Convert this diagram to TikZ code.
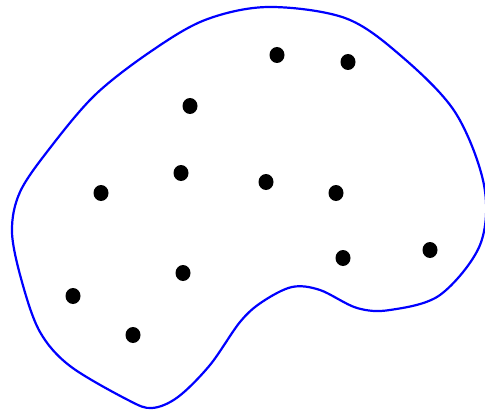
\documentclass[tikz,border=0pt]{standalone}
\usetikzlibrary{shapes.geometric}
\begin{document}
\begin{tikzpicture}[x=1pt,y=-1pt,
  dot/.style={fill=black,ellipse,inner sep=0pt,minimum width=15pt,minimum height=16pt},
  region/.style={draw=blue,line width=2.2pt}]
\useasboundingbox (0,0) rectangle (485,412);
\draw[region] plot[smooth cycle,tension=0.55] coordinates {
 (268,7) (345,18) (400,55) (455,112) (484,185) (480,245) (440,295) (390,310) (357,308)
 (320,290) (292,287) (262,302) (240,322) (210,365) (178,397) (152,408) (128,400)
 (70,366) (40,332) (22,282) (12,232) (20,192) (50,148) (95,95) (150,52) (205,20)};
\node[dot] (p1) at (277,55) {};
\node[dot] (p2) at (348,62) {};
\node[dot] (p3) at (190,106) {};
\node[dot] (p4) at (101,193) {};
\node[dot] (p5) at (181,173) {};
\node[dot] (p6) at (266,182) {};
\node[dot] (p7) at (336,193) {};
\node[dot] (p8) at (183,273) {};
\node[dot] (p9) at (343,258) {};
\node[dot] (p10) at (430,250) {};
\node[dot] (p11) at (73,296) {};
\node[dot] (p12) at (133,335) {};
\end{tikzpicture}
\end{document}
